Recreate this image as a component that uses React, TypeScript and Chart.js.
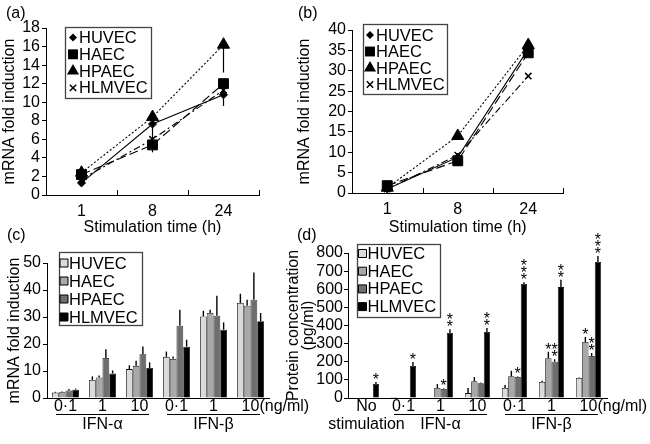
import React, { useEffect, useRef } from 'react';
import { Chart, registerables } from 'chart.js';
Chart.register(...registerables);

const FONT = "'Liberation Sans', Arial, Helvetica, sans-serif";
Chart.defaults.font.family = FONT;
Chart.defaults.font.size = 16;
Chart.defaults.color = '#000';

// ---------- shared labels ----------
const cellLines = ['HUVEC', 'HAEC', 'HPAEC', 'HLMVEC'];
const timeLabels = ['1', '8', '24'];
const timeTitle = 'Stimulation time (h)';
const mrnaTitle = 'mRNA fold induction';
const proteinTitle = ['Protein concentration', '(pg/ml)'];
const unitText = '(ng/ml)';
const groupAlpha = 'IFN-α';
const groupBeta = 'IFN-β';

// ---------- panel (a): mRNA vs time, IFN-alpha ----------
const aHUVEC = [1.3, 7.65, 10.8];
const aHAEC = [2.2, 5.4, 12.0];
const aHPAEC = [2.4, 8.4, 16.2];
const aHLMVEC = [1.7, 6.0, 11.3];
const aErrHUVEC = [0, 2.2, 1.2];
const aErrHAEC = [0, 0.8, 0];
const aErrHPAEC = [0, 0, 3.0];
const aErrHLMVEC = [0, 0, 0];

// ---------- panel (b): mRNA vs time, IFN-beta ----------
const bHUVEC = [1.0, 8.8, 35.3];
const bHAEC = [1.8, 7.9, 34.4];
const bHPAEC = [1.3, 14.0, 36.3];
const bHLMVEC = [1.0, 9.3, 28.7];
const bErrHUVEC = [0, 0, 0];
const bErrHAEC = [0, 1.2, 0];
const bErrHPAEC = [0, 0, 0];
const bErrHLMVEC = [0, 0, 0];

// ---------- panel (c): mRNA vs dose ----------
const doseLabels = ['0·1', '1', '10', '0·1', '1', '10'];
const cHUVEC = [2.0, 6.7, 10.7, 15.2, 30.2, 35.2];
const cHAEC = [2.1, 7.6, 11.9, 14.5, 31.5, 34.2];
const cHPAEC = [2.8, 14.8, 16.2, 26.8, 30.5, 36.4];
const cHLMVEC = [3.1, 9.1, 11.1, 19.0, 25.3, 28.4];
const cErrHUVEC = [0.3, 1.3, 1.4, 2.0, 2.1, 3.4];
const cErrHAEC = [0.3, 0.7, 1.9, 0.9, 1.2, 2.2];
const cErrHPAEC = [0.5, 3.3, 2.9, 5.9, 7.4, 10.1];
const cErrHLMVEC = [0.4, 1.1, 2.1, 2.6, 2.7, 3.1];

// ---------- panel (d): protein vs dose ----------
const protLabels = [['No', 'stimulation'], '0·1', '1', '10', '0·1', '1', '10'];
const dHUVEC = [null, 5, null, 27, 55, 88, 110];
const dHAEC = [null, null, 55, 93, 120, 220, 309];
const dHPAEC = [null, null, 50, 82, 116, 200, 232];
const dHLMVEC = [77, 177, 359, 364, 629, 612, 750];
const dErrHUVEC = [0, 0, 0, 28, 17, 7, 3];
const dErrHAEC = [0, 0, 22, 23, 30, 35, 28];
const dErrHPAEC = [0, 0, 3, 3, 3, 14, 16];
const dErrHLMVEC = [11, 22, 21, 22, 10, 40, 33];
const dStarsHUVEC = [0, 0, 0, 0, 0, 0, 0];
const dStarsHAEC = [0, 0, 0, 0, 0, 1, 1];
const dStarsHPAEC = [0, 0, 1, 0, 1, 2, 2];
const dStarsHLMVEC = [1, 1, 2, 2, 3, 2, 3];

// ---------- styles ----------
const lineStyles = [
  { marker: 'rectRot', radius: 4, dash: [] as number[] },
  { marker: 'rect', radius: 7, dash: [9, 4] },
  { marker: 'triangle', radius: 7, dash: [2, 2] },
  { marker: 'crossRot', radius: 4.5, dash: [7, 3, 2, 3] },
];
const barColors = ['#dadada', '#a8a8a8', '#6e6e6e', '#000000'];

function drawMarker(ctx: CanvasRenderingContext2D, kind: string, x: number, y: number, r: number, fill: string) {
  ctx.save();
  ctx.fillStyle = fill;
  ctx.strokeStyle = '#000';
  ctx.lineWidth = 1;
  ctx.setLineDash([]);
  ctx.beginPath();
  if (kind === 'rectRot') {
    ctx.moveTo(x, y - r); ctx.lineTo(x + r, y); ctx.lineTo(x, y + r); ctx.lineTo(x - r, y); ctx.closePath();
    ctx.fill();
  } else if (kind === 'rect') {
    const s = r * Math.SQRT1_2;
    ctx.rect(x - s, y - s, 2 * s, 2 * s);
    ctx.fill();
  } else if (kind === 'triangle') {
    ctx.moveTo(x, y - r); ctx.lineTo(x + 0.866 * r, y + 0.5 * r); ctx.lineTo(x - 0.866 * r, y + 0.5 * r); ctx.closePath();
    ctx.fill();
  } else if (kind === 'crossRot') {
    const s = r * Math.SQRT1_2;
    ctx.lineWidth = 1.5;
    ctx.moveTo(x - s, y - s); ctx.lineTo(x + s, y + s); ctx.moveTo(x + s, y - s); ctx.lineTo(x - s, y + s);
    ctx.stroke();
  } else {
    ctx.rect(x - r, y - r, 2 * r, 2 * r);
    ctx.fill();
    ctx.stroke();
  }
  ctx.restore();
}

type LegendCfg = { x: number; y: number; w: number; h: number; rowY: number; rowH: number; markerX: number; textX: number; kinds: string[]; fills: string[]; size: number[] };
type ExtraCfg = {
  errors?: number[][];
  errorDir?: 'up' | 'down';
  errorWidth?: number;
  stars?: number[][];
  inwardTicks?: boolean;
  groups?: { label: string; from: number; to: number }[];
  groupLineOffset?: number;
  groupTextOffset?: number;
  groupInset?: number;
  unitOffsetY?: number;
  legend?: LegendCfg;
};

function makeExtra(cfg: ExtraCfg) {
  return {
    id: 'extra',
    afterDraw(chart: any) {
      const ctx: CanvasRenderingContext2D = chart.ctx;
      const xs = chart.scales.x;
      const ys = chart.scales.y;
      const area = chart.chartArea;
      ctx.save();
      ctx.strokeStyle = '#000';
      ctx.fillStyle = '#000';
      ctx.setLineDash([]);
      // error bars
      if (cfg.errors) {
        ctx.lineWidth = cfg.errorWidth || 1;
        cfg.errors.forEach((arr, di) => {
          const meta = chart.getDatasetMeta(di);
          const data = chart.data.datasets[di].data;
          arr.forEach((e, j) => {
            const v = data[j];
            const el = meta.data[j];
            if (v == null || !e || !el) return;
            const y0 = ys.getPixelForValue(v);
            const y1 = ys.getPixelForValue(cfg.errorDir === 'up' ? v + e : v - e);
            ctx.beginPath();
            ctx.moveTo(el.x, y0);
            ctx.lineTo(el.x, y1);
            ctx.stroke();
          });
        });
      }
      // significance stars
      if (cfg.stars) {
        ctx.font = `16px ${FONT}`;
        ctx.textAlign = 'center';
        ctx.textBaseline = 'alphabetic';
        cfg.stars.forEach((arr, di) => {
          const meta = chart.getDatasetMeta(di);
          const data = chart.data.datasets[di].data;
          arr.forEach((n, j) => {
            const v = data[j];
            const el = meta.data[j];
            if (!n || v == null || !el) return;
            const e = cfg.errors ? cfg.errors[di][j] : 0;
            const yTop = ys.getPixelForValue(v + e);
            for (let k = 0; k < n; k++) {
              const cy = yTop - 6 - k * 7;
              ctx.fillText('*', el.x, cy + 9);
            }
          });
        });
      }
      // inward ticks on the x axis between categories
      if (cfg.inwardTicks) {
        ctx.lineWidth = 1;
        const n = xs.ticks.length;
        ctx.beginPath();
        for (let i = 0; i < n; i++) {
          const xr = i < n - 1 ? (xs.getPixelForTick(i) + xs.getPixelForTick(i + 1)) / 2 : area.right - 0.5;
          const xx = Math.round(xr) + 0.5;
          ctx.moveTo(xx, area.bottom);
          ctx.lineTo(xx, area.bottom - 5);
        }
        ctx.stroke();
      }
      // group underlines + labels
      if (cfg.groups) {
        const half = (xs.getPixelForTick(1) - xs.getPixelForTick(0)) / 2;
        ctx.lineWidth = 1;
        ctx.font = `16px ${FONT}`;
        ctx.textAlign = 'center';
        ctx.textBaseline = 'middle';
        cfg.groups.forEach((g) => {
          const x0 = xs.getPixelForTick(g.from) - half + (cfg.groupInset || 0);
          const x1 = xs.getPixelForTick(g.to) + half - (cfg.groupInset || 0);
          const yl = Math.round(area.bottom + (cfg.groupLineOffset || 0)) + 0.5;
          ctx.beginPath();
          ctx.moveTo(x0, yl);
          ctx.lineTo(x1, yl);
          ctx.stroke();
          ctx.fillText(g.label, (x0 + x1) / 2, area.bottom + (cfg.groupTextOffset || 0));
        });
        // unit after the last tick label
        const last = xs.ticks.length - 1;
        const lbl = String(xs.getLabelForValue(last));
        const xu = xs.getPixelForTick(last) + ctx.measureText(lbl).width / 2;
        ctx.textAlign = 'left';
        ctx.fillText(unitText, xu, area.bottom + (cfg.unitOffsetY || 0));
      }
      // legend box
      if (cfg.legend) {
        const L = cfg.legend;
        ctx.fillStyle = '#fff';
        ctx.fillRect(L.x, L.y, L.w, L.h);
        ctx.strokeStyle = '#444';
        ctx.lineWidth = 1.3;
        ctx.strokeRect(L.x + 0.5, L.y + 0.5, L.w, L.h);
        ctx.font = `16.5px ${FONT}`;
        ctx.textAlign = 'left';
        ctx.textBaseline = 'middle';
        cellLines.forEach((name, i) => {
          const cy = L.rowY + i * L.rowH;
          drawMarker(ctx, L.kinds[i], L.markerX, cy, L.size[i], L.fills[i]);
          ctx.fillStyle = '#000';
          ctx.fillText(name, L.textX, cy + 1);
        });
      }
      ctx.restore();
    },
  };
}

function yAxis(max: number, step: number, width: number, title: string | string[], titlePadTop: number, titleLH: number, tickPad: number) {
  return {
    type: 'linear',
    min: 0,
    max,
    afterFit: (s: any) => { s.width = width; },
    grid: { drawOnChartArea: false, drawTicks: true, tickLength: 4, color: '#000', lineWidth: 1 },
    border: { display: true, color: '#000', width: 1 },
    ticks: { stepSize: step, autoSkip: false, padding: tickPad, font: { size: 16 }, color: '#000' },
    title: { display: true, text: title, padding: { top: titlePadTop, bottom: 0 }, font: { size: 16, lineHeight: titleLH }, color: '#000' },
  };
}

function lineConfig(series: number[][], errors: number[][], yMax: number, yStep: number, yWidth: number, xHeight: number, padTop: number, padRight: number, legend: LegendCfg) {
  return {
    type: 'line',
    data: {
      labels: timeLabels,
      datasets: series.map((d, i) => ({
        label: cellLines[i],
        data: d,
        borderColor: '#000',
        borderWidth: 1.1,
        borderDash: lineStyles[i].dash,
        pointStyle: lineStyles[i].marker,
        pointRadius: lineStyles[i].radius,
        pointBackgroundColor: '#000',
        pointBorderColor: '#000',
        pointBorderWidth: i === 3 ? 1.5 : 1,
        fill: false,
        tension: 0,
      })),
    },
    options: {
      responsive: false,
      animation: false,
      layout: { padding: { left: 0, top: padTop, right: padRight, bottom: 0 } },
      plugins: { legend: { display: false }, tooltip: { enabled: false } },
      scales: {
        x: {
          type: 'category',
          offset: true,
          afterFit: (s: any) => { s.height = xHeight; },
          grid: { display: false, drawTicks: false },
          border: { display: true, color: '#000', width: 1 },
          ticks: { padding: 7.4, maxRotation: 0, autoSkip: false, font: { size: 16 }, color: '#000' },
          title: { display: true, text: timeTitle, padding: { top: 0, bottom: 2.4 }, font: { size: 16 }, color: '#000' },
        },
        y: yAxis(yMax, yStep, yWidth, mrnaTitle, 0, 1.2, 2),
      },
    },
    plugins: [makeExtra({ errors, errorDir: 'down', errorWidth: 1.2, inwardTicks: true, legend })],
  };
}

function barConfig(labels: any[], series: (number | null)[][], errors: number[][], stars: number[][] | undefined, yMax: number, yStep: number, yWidth: number, yTitle: string | string[], yTitlePad: number, yTitleLH: number, yTickPad: number, xHeight: number, padTop: number, padRight: number, catPct: number, groups: { label: string; from: number; to: number }[], legend: LegendCfg) {
  return {
    type: 'bar',
    data: {
      labels,
      datasets: series.map((d, i) => ({
        label: cellLines[i],
        data: d,
        backgroundColor: barColors[i],
        borderColor: '#111',
        borderWidth: 0.8,
        categoryPercentage: catPct,
        barPercentage: 1.0,
      })),
    },
    options: {
      responsive: false,
      animation: false,
      layout: { padding: { left: 0, top: padTop, right: padRight, bottom: 0 } },
      plugins: { legend: { display: false }, tooltip: { enabled: false } },
      scales: {
        x: {
          type: 'category',
          offset: true,
          afterFit: (s: any) => { s.height = xHeight; },
          grid: { display: false, drawTicks: false },
          border: { display: true, color: '#000', width: 1 },
          ticks: { padding: 0, maxRotation: 0, autoSkip: false, font: { size: 16, lineHeight: 1.1 }, color: '#000' },
        },
        y: yAxis(yMax, yStep, yWidth, yTitle, yTitlePad, yTitleLH, yTickPad),
      },
    },
    plugins: [makeExtra({ errors, errorDir: 'up', errorWidth: 1.4, stars, groups, groupLineOffset: 15.5, groupTextOffset: 26.5, groupInset: 9, unitOffsetY: 8.8, legend })],
  };
}

const lineKinds = lineStyles.map((s) => s.marker);
const lineSizes = [4, 7, 7, 4.5];
const blackFills = ['#000', '#000', '#000', '#000'];

function makeA() {
  return lineConfig(
    [aHUVEC, aHAEC, aHPAEC, aHLMVEC],
    [aErrHUVEC, aErrHAEC, aErrHPAEC, aErrHLMVEC],
    18, 2, 46, 45, 28, 66,
    { x: 65, y: 27, w: 86, h: 71, rowY: 37.5, rowH: 16.8, markerX: 73, textX: 79, kinds: lineKinds, fills: blackFills, size: lineSizes },
  );
}
function makeB() {
  return lineConfig(
    [bHUVEC, bHAEC, bHPAEC, bHLMVEC],
    [bErrHUVEC, bErrHAEC, bErrHPAEC, bErrHLMVEC],
    40, 5, 57, 47, 30, 86.5,
    { x: 68, y: 24, w: 84, h: 70, rowY: 35, rowH: 16.5, markerX: 75, textX: 81, kinds: lineKinds, fills: blackFills, size: lineSizes },
  );
}
function makeC() {
  return barConfig(
    doseLabels,
    [cHUVEC, cHAEC, cHPAEC, cHLMVEC],
    [cErrHUVEC, cErrHAEC, cErrHPAEC, cErrHLMVEC],
    undefined,
    50, 10, 47, mrnaTitle, 5.4, 1.2, 2, 46, 38, 56, 0.73,
    [{ label: groupAlpha, from: 0, to: 2 }, { label: groupBeta, from: 3, to: 5 }],
    { x: 59, y: 27, w: 83, h: 73, rowY: 38, rowH: 18, markerX: 64, textX: 69, kinds: ['box', 'box', 'box', 'box'], fills: barColors, size: [4, 4, 4, 4] },
  );
}
function makeD() {
  return barConfig(
    protLabels,
    [dHUVEC, dHAEC, dHPAEC, dHLMVEC],
    [dErrHUVEC, dErrHAEC, dErrHPAEC, dErrHLMVEC],
    [dStarsHUVEC, dStarsHAEC, dStarsHPAEC, dStarsHLMVEC],
    800, 100, 62, proteinTitle, 0, 0.95, 1, 46, 28, 43, 0.68,
    [{ label: groupAlpha, from: 1, to: 3 }, { label: groupBeta, from: 4, to: 6 }],
    { x: 71, y: 19, w: 83, h: 73, rowY: 28.5, rowH: 17.7, markerX: 76.5, textX: 81.5, kinds: ['box', 'box', 'box', 'box'], fills: barColors, size: [4, 4, 4, 4] },
  );
}

function Panel({ left, top, width, height, make }: { left: number; top: number; width: number; height: number; make: () => any }) {
  const ref = useRef<HTMLCanvasElement>(null);
  useEffect(() => {
    const chart = new Chart(ref.current as HTMLCanvasElement, make());
    return () => chart.destroy();
  }, []);
  return <canvas ref={ref} width={width} height={height} style={{ position: 'absolute', left, top, width, height }} />;
}

const letterStyle: React.CSSProperties = { position: 'absolute', fontFamily: FONT, fontSize: 16, lineHeight: '20px', color: '#000' };

export default function App() {
  return (
    <div style={{ position: 'fixed', left: 0, top: 0, width: 650, height: 444, background: '#fff', overflow: 'hidden' }}>
      <Panel left={0} top={0} width={325} height={240} make={makeA} />
      <Panel left={295} top={0} width={355} height={240} make={makeB} />
      <Panel left={0} top={225} width={325} height={219} make={makeC} />
      <Panel left={286} top={225} width={364} height={219} make={makeD} />
      <div style={{ ...letterStyle, left: 6, top: 3 }}>(a)</div>
      <div style={{ ...letterStyle, left: 298, top: 3 }}>(b)</div>
      <div style={{ ...letterStyle, left: 7, top: 225 }}>(c)</div>
      <div style={{ ...letterStyle, left: 297, top: 225 }}>(d)</div>
    </div>
  );
}
